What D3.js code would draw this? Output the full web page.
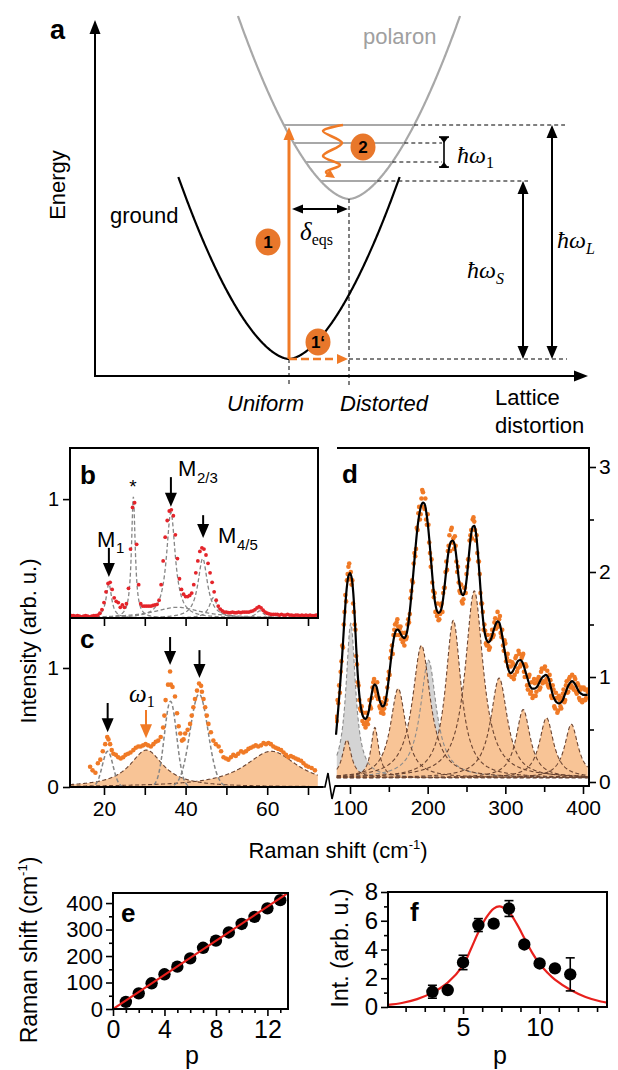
<!DOCTYPE html>
<html><head><meta charset="utf-8">
<script src="https://cdn.jsdelivr.net/npm/d3@7/dist/d3.min.js"></script>
<style>
html,body{margin:0;padding:0;background:#fff;}
svg{display:block;}
</style></head>
<body><svg id="fig" width="618" height="1070" xmlns="http://www.w3.org/2000/svg"></svg>
<script>
// ======================= DATA =======================
// Panel a (schematic) : wells in (distortion q, energy E) units
const wellNames   = ["ground", "polaron"];
const wellCenterQ = [194, 254];
const wellMinE    = [17, 177];
const wellTopE    = [199, 360];
const wellShapeK  = [0.061, 0.061];
const wellShapeP  = [1.7, 1.7];
const vibLevelsE  = [251, 233, 214, 195];
const vibDashEndQ = [470, 347, 347, 433];
const wavePathQ   = [248, 228, 247, 228, 245, 231, 240];
const wavePathE   = [251, 245, 233, 220, 211, 204, 198];
const stepLabels  = ["1", "2", "1\u2018"];
const stepQ       = [173, 268, 223];
const stepE       = [134, 229, 34];

// Panel b : measured spectrum (red dots) 12..72 cm-1, step 0.5
const bShift = d3.range(12, 72.01, 0.5);
const bInt = [0.02,0.02,0.015,0.02,0.015,0.01,0.015,0.02,0.015,0.01,0.015,0.02,0.02,0.025,0.04,0.07,0.13,0.22,0.29,0.30,
  0.24,0.17,0.14,0.13,0.09,0.11,0.09,0.12,0.25,0.58,0.93,0.97,0.62,0.28,0.12,0.10,0.10,0.10,0.10,0.10,
  0.105,0.11,0.115,0.15,0.28,0.48,0.68,0.82,0.90,0.91,0.86,0.70,0.50,0.33,0.24,0.20,0.18,0.18,0.19,0.21,
  0.28,0.38,0.48,0.56,0.59,0.58,0.53,0.46,0.38,0.30,0.22,0.15,0.10,0.075,0.06,0.05,0.05,0.045,0.045,0.05,
  0.045,0.045,0.05,0.045,0.05,0.05,0.05,0.05,0.055,0.06,0.07,0.085,0.095,0.085,0.065,0.05,0.04,0.035,0.03,0.03,
  0.03,0.03,0.025,0.03,0.025,0.025,0.03,0.025,0.025,0.02,0.025,0.025,0.02,0.025,0.02,0.025,0.02,0.025,0.02,0.02,0.025];
// Panel b fitted components (Lorentzian): centre, height, half width
const bPeakC = [21.2, 27.2, 36.4, 44.2, 46.8, 38.0, 58.2];
const bPeakH = [0.29, 1.02, 0.89, 0.50, 0.17, 0.09, 0.06];
const bPeakW = [0.8, 0.55, 1.3, 1.4, 1.2, 7.0, 1.2];
const bArrowShift = [21.2, 36.4, 44.3];
const bArrowTop   = [0.59, 1.185, 0.865];
const bArrowTip   = [0.345, 0.935, 0.672];

// Panel c : measured spectrum (orange dots)
const cShift = [16.6,17.9,19.1,20.3,20.8,21.5,22.3,23.5,24.7,25.9,27.2,28.4,29.6,30.8,32.1,33.3,34.5,35.1,36.2,36.4,37.4,38.3,39.1,39.9,
  41.1,41.9,42.8,43.3,44.0,44.8,45.6,46.8,48.1,49.3,50.5,51.7,52.9,54.2,55.4,56.6,57.8,59.1,60.3,61.5,62.7,64.0,65.2,66.4,67.6,68.9,70.1,71.7];
const cInt = [0.17,0.12,0.23,0.36,0.42,0.36,0.28,0.25,0.25,0.28,0.31,0.34,0.35,0.35,0.36,0.39,0.50,0.73,0.97,0.86,0.76,0.51,0.39,0.45,
  0.53,0.67,0.81,0.87,0.80,0.67,0.53,0.39,0.34,0.25,0.23,0.27,0.28,0.29,0.32,0.34,0.34,0.37,0.37,0.34,0.32,0.29,0.25,0.25,0.23,0.20,0.17,0.14];
const cShift2 = [17.2,18.5,19.7,21.1,21.9,22.9,24.1,25.3,26.5,27.8,29.0,30.2,31.5,32.7,33.9,34.8,35.7,36.8,37.9,38.7,39.5,40.5,41.5,42.3,
  43.8,44.4,45.2,46.2,47.4,48.7,49.9,51.1,52.3,53.6,54.8,56.0,57.2,58.5,59.7,60.9,62.1,63.4,64.6,65.8,67.0,68.3,69.5,70.9];
const cInt2 = [0.14,0.20,0.30,0.40,0.31,0.27,0.24,0.27,0.29,0.33,0.34,0.36,0.34,0.38,0.42,0.60,0.86,0.84,0.62,0.45,0.40,0.48,0.60,0.74,
  0.85,0.74,0.60,0.46,0.36,0.30,0.24,0.25,0.26,0.30,0.30,0.33,0.35,0.35,0.36,0.36,0.33,0.31,0.27,0.26,0.24,0.22,0.18,0.16];
const cFillC = [30.4, 61.0], cFillH = [0.31, 0.30], cFillW = [5.0, 8.0];     // Lorentzian
const cGreyC = [20.9, 36.3, 43.3], cGreyH = [0.30, 0.72, 0.78], cGreyW = [1.3, 1.5, 2.2]; // Gaussian
const cArrowShift = [20.9, 36.2, 43.4], cArrowTop = [0.706, 1.26, 1.15], cArrowTip = [0.46, 1.025, 0.915];
const cOmegaShift = 30.3, cOmegaTop = 0.647, cOmegaTip = 0.41;

// Panel d : fit line and dots on even grid 82..406, extra dots on odd grid 83..405
const dShift = d3.range(82, 406.1, 2);
const dFit = [0.45,0.62,0.80,1.00,1.21,1.45,1.68,1.86,1.96,1.99,1.95,1.82,1.58,1.28,1.02,0.83,0.71,0.64,0.61,0.60,
  0.62,0.67,0.75,0.84,0.91,0.93,0.91,0.85,0.78,0.74,0.72,0.73,0.78,0.87,0.99,1.12,1.25,1.35,1.42,1.45,
  1.45,1.43,1.40,1.38,1.37,1.39,1.45,1.56,1.70,1.86,2.03,2.20,2.36,2.49,2.58,2.64,2.66,2.65,2.58,2.47,
  2.32,2.14,1.96,1.80,1.69,1.63,1.61,1.62,1.66,1.75,1.88,2.02,2.15,2.24,2.29,2.30,2.28,2.20,2.07,1.94,
  1.84,1.79,1.78,1.82,1.92,2.07,2.23,2.36,2.43,2.44,2.38,2.24,2.05,1.84,1.65,1.50,1.40,1.35,1.33,1.34,
  1.37,1.42,1.47,1.51,1.53,1.52,1.47,1.39,1.30,1.21,1.13,1.07,1.04,1.04,1.06,1.09,1.12,1.15,1.16,1.16,
  1.14,1.10,1.05,1.00,0.95,0.91,0.89,0.89,0.89,0.90,0.92,0.95,0.98,1.00,1.01,1.02,1.01,0.98,0.92,0.86,
  0.81,0.78,0.76,0.75,0.75,0.76,0.78,0.82,0.86,0.90,0.93,0.95,0.96,0.95,0.93,0.90,0.87,0.85,0.84,0.83,
  0.83,0.83,0.83];
const dInt = [0.62,0.78,0.92,1.05,1.30,1.50,1.78,1.92,2.05,1.93,1.88,1.70,1.50,1.20,0.95,0.78,0.68,0.58,0.55,0.52,
  0.58,0.60,0.72,0.80,0.95,0.88,0.82,0.79,0.72,0.66,0.68,0.70,0.74,0.90,1.05,1.18,1.30,1.40,1.50,1.52,
  1.48,1.46,1.36,1.33,1.30,1.36,1.50,1.52,1.75,1.92,2.08,2.15,2.42,2.56,2.50,2.70,2.76,2.60,2.50,2.55,
  2.28,2.05,1.90,1.76,1.62,1.58,1.54,1.60,1.70,1.80,1.85,2.10,2.20,2.35,2.40,2.28,2.22,2.25,2.00,1.90,
  1.80,1.72,1.74,1.85,1.98,2.12,2.30,2.40,2.50,2.48,2.30,2.18,2.10,1.80,1.70,1.45,1.44,1.30,1.30,1.28,
  1.40,1.38,1.52,1.46,1.62,1.55,1.42,1.45,1.25,1.32,1.18,1.10,1.15,1.00,1.12,1.02,1.20,1.08,1.22,1.12,
  1.20,1.05,1.12,0.92,1.00,0.84,0.95,0.82,0.94,0.86,0.98,0.88,1.05,0.94,1.08,0.95,1.06,0.90,0.97,0.80,
  0.88,0.70,0.80,0.68,0.78,0.70,0.84,0.76,0.92,0.85,0.98,0.90,1.02,0.88,0.98,0.84,0.92,0.78,0.90,0.78,
  0.88,0.80,0.86];
const dShift2 = d3.range(83, 405.1, 2);
const dInt2 = [0.58,0.75,0.85,1.15,1.28,1.62,1.72,1.98,2.08,2.00,
  1.92,1.62,1.45,1.12,0.92,0.70,0.72,0.66,0.56,0.66,
  0.55,0.78,0.70,0.90,0.98,0.86,0.95,0.80,0.70,0.76,
  0.65,0.80,0.78,0.98,1.02,1.25,1.22,1.45,1.40,1.55,
  1.40,1.48,1.42,1.35,1.42,1.38,1.55,1.60,1.82,1.90,
  2.18,2.22,2.40,2.62,2.55,2.78,2.62,2.70,2.45,2.45,
  2.18,2.12,1.82,1.80,1.62,1.70,1.55,1.68,1.62,1.85,
  2.00,2.02,2.25,2.20,2.42,2.32,2.34,2.10,2.05,1.82,
  1.88,1.70,1.85,1.80,2.05,2.12,2.35,2.32,2.52,2.40,
  2.35,2.10,1.98,1.70,1.62,1.50,1.32,1.40,1.26,1.36,
  1.45,1.40,1.56,1.50,1.48,1.58,1.38,1.30,1.35,1.15,
  1.22,1.02,1.10,1.14,0.98,1.18,1.05,1.25,1.10,1.18,
  1.22,1.00,1.10,0.88,1.02,0.86,0.80,0.98,0.82,0.95,
  1.00,0.90,1.08,0.96,1.10,0.98,0.92,1.02,0.82,0.92,
  0.72,0.85,0.66,0.82,0.72,0.80,0.88,0.78,0.96,0.86,
  1.00,0.92,0.90,1.00,0.86,0.94,0.80,0.88,0.76,0.90,
  0.78,0.88];
const dOrC = [96, 132, 162, 192, 233, 260, 292, 323, 353, 385];
const dOrH = [0.36, 0.48, 0.85, 1.26, 1.50, 1.78, 0.95, 0.65, 0.57, 0.51];
const dOrW = [7, 6, 12, 14, 12, 14, 13, 11, 11, 10.5];
const dGrC = [101, 201], dGrH = [1.47, 1.12], dGrW = [7.4, 12.5];
const dBase = 0.04;

// Panel e
const eP = [1,2,3,4,5,6,7,8,9,10,11,12,13];
const eShift = [27,59,97,131,160,191,231,258,289,321,348,380,411];
const eLineP = [0, 13.6], eLineV = [0, 438];

// Panel f
const fP = [3,4,5,6,7,8,9,10,11,12];
const fInt = [1.06,1.18,3.1,5.7,5.8,6.85,4.35,3.03,2.69,2.27];
const fErr = [0.45,0.2,0.5,0.45,0.2,0.55,0.2,0.2,0.2,1.15];
const fFitP = [0.1,1,2,3,4,5,5.5,6,6.5,7,7.4,8,8.5,9,9.5,10,10.5,11,12,13,14,14.4];
const fFitV = [0.15,0.28,0.55,1.0,1.7,2.9,4.0,5.2,6.2,6.85,7.0,6.6,5.8,4.8,3.8,3.0,2.4,1.9,1.2,0.7,0.38,0.3];

// ======================= STYLE =======================
const SANS = '"Liberation Sans", Arial, Helvetica, sans-serif';
const SERIF = '"Liberation Serif", "DejaVu Serif", serif';
const ORANGE = "#f07a26", CIRC = "#e8772b", RED = "#e8201c", BRED = "#e4242a";
const FILL = "#f8c496", DASHB = "#6b4431", GREYL = "#a8a8a8";

const svg = d3.select("#fig");
const lor = (v, c, h, g) => h / (1 + ((v - c) / g) ** 2);
const gau = (v, c, h, s) => h * Math.exp(-0.5 * ((v - c) / s) ** 2);

function head(g, x1, y1, x2, y2, len, wid, color) {
  const a = Math.atan2(y2 - y1, x2 - x1);
  const bx = x2 - len * Math.cos(a), by = y2 - len * Math.sin(a);
  const px = -Math.sin(a) * wid / 2, py = Math.cos(a) * wid / 2;
  g.append("path").attr("d", `M${x2},${y2}L${bx + px},${by + py}L${bx - px},${by - py}Z`).attr("fill", color);
}
function arrow(g, x1, y1, x2, y2, o) {
  o = Object.assign({color: "#000", w: 2, len: 12, wid: 10, start: false, end: true, dash: null}, o || {});
  const d = Math.hypot(x2 - x1, y2 - y1), ux = (x2 - x1) / d, uy = (y2 - y1) / d;
  const sx = o.start ? x1 + ux * o.len * 0.8 : x1, sy = o.start ? y1 + uy * o.len * 0.8 : y1;
  const ex = o.end ? x2 - ux * o.len * 0.8 : x2, ey = o.end ? y2 - uy * o.len * 0.8 : y2;
  const l = g.append("line").attr("x1", sx).attr("y1", sy).attr("x2", ex).attr("y2", ey)
    .attr("stroke", o.color).attr("stroke-width", o.w);
  if (o.dash) l.attr("stroke-dasharray", o.dash);
  if (o.end) head(g, x1, y1, x2, y2, o.len, o.wid, o.color);
  if (o.start) head(g, x2, y2, x1, y1, o.len, o.wid, o.color);
}
function txt(g, x, y, s, o) {
  o = Object.assign({size: 20, family: SANS, anchor: "start", weight: "normal", style: "normal", fill: "#000"}, o || {});
  return g.append("text").attr("x", x).attr("y", y).text(s).attr("font-size", o.size).attr("font-family", o.family)
    .attr("text-anchor", o.anchor).attr("font-weight", o.weight).attr("font-style", o.style).attr("fill", o.fill);
}
function styleAxis(g, fs, lw) {
  g.attr("font-family", SANS).attr("font-size", fs);
  g.selectAll("text").attr("fill", "#000").attr("font-family", SANS).attr("font-size", fs);
  g.selectAll("line").attr("stroke", "#000").attr("stroke-width", lw || 1.6);
  g.select(".domain").remove();
}

// ======================= PANEL a =======================
const gA = svg.append("g");
const xA = d3.scaleLinear().domain([0, 493]).range([95, 588]);
const yA = d3.scaleLinear().domain([0, 356]).range([376, 20]);
arrow(gA, xA(0), yA(0) + 1, xA(0), yA(356), {w: 2, len: 14, wid: 11});
arrow(gA, xA(0) - 1, yA(0), xA(493), yA(0), {w: 2, len: 14, wid: 11});

const wellLine = d3.line().x(d => xA(d[0])).y(d => yA(d[1]));
wellNames.forEach((n, i) => {
  const hw = Math.pow((wellTopE[i] - wellMinE[i]) / wellShapeK[i], 1 / wellShapeP[i]);
  const pts = d3.range(-hw, hw + 0.01, hw / 200).map(dq =>
    [wellCenterQ[i] + dq, wellMinE[i] + wellShapeK[i] * Math.pow(Math.abs(dq), wellShapeP[i])]);
  gA.append("path").attr("d", wellLine(pts)).attr("fill", "none")
    .attr("stroke", i === 0 ? "#000" : GREYL).attr("stroke-width", 2.2);
});
vibLevelsE.forEach((E, i) => {
  const hw = Math.pow((E - wellMinE[1]) / wellShapeK[1], 1 / wellShapeP[1]);
  gA.append("line").attr("x1", xA(wellCenterQ[1] - hw)).attr("x2", xA(wellCenterQ[1] + hw))
    .attr("y1", yA(E)).attr("y2", yA(E)).attr("stroke", GREYL).attr("stroke-width", 2.2);
  gA.append("line").attr("x1", xA(wellCenterQ[1] + hw)).attr("x2", xA(vibDashEndQ[i]))
    .attr("y1", yA(E)).attr("y2", yA(E)).attr("stroke", "#000").attr("stroke-width", 1).attr("stroke-dasharray", "4,3");
});
gA.append("line").attr("x1", xA(wellCenterQ[1])).attr("x2", xA(wellCenterQ[1])).attr("y1", yA(wellMinE[1])).attr("y2", yA(-9))
  .attr("stroke", "#000").attr("stroke-width", 1).attr("stroke-dasharray", "4,3");
gA.append("line").attr("x1", xA(wellCenterQ[0])).attr("x2", xA(wellCenterQ[0])).attr("y1", yA(wellMinE[0])).attr("y2", yA(-9))
  .attr("stroke", "#000").attr("stroke-width", 1).attr("stroke-dasharray", "4,3");
gA.append("line").attr("x1", xA(wellCenterQ[1])).attr("x2", xA(472)).attr("y1", yA(wellMinE[0])).attr("y2", yA(wellMinE[0]))
  .attr("stroke", "#000").attr("stroke-width", 1).attr("stroke-dasharray", "4,3");
arrow(gA, xA(wellCenterQ[0]), yA(wellMinE[0]), xA(wellCenterQ[0]), yA(249), {color: ORANGE, w: 3, len: 13, wid: 11});
arrow(gA, xA(wellCenterQ[0]), yA(wellMinE[0]), xA(wellCenterQ[1] - 1), yA(wellMinE[0]), {color: ORANGE, w: 2.6, len: 11, wid: 10, dash: "8,4"});
arrow(gA, xA(wellCenterQ[0] + 3), yA(167), xA(wellCenterQ[1] - 1), yA(167), {w: 2, len: 11, wid: 9, start: true});
arrow(gA, xA(428), yA(wellMinE[0]), xA(428), yA(vibLevelsE[3]), {w: 2, len: 13, wid: 11, start: true});
arrow(gA, xA(457), yA(wellMinE[0]), xA(457), yA(vibLevelsE[0]), {w: 2, len: 13, wid: 11, start: true});
(function () {
  const x = xA(349), yt = yA(vibLevelsE[1]), yb = yA(vibLevelsE[2]);
  gA.append("line").attr("x1", x).attr("x2", x).attr("y1", yt - 6).attr("y2", yb + 5).attr("stroke", "#000").attr("stroke-width", 1.6);
  gA.append("line").attr("x1", x - 5).attr("x2", x + 5).attr("y1", yt - 6).attr("y2", yt - 6).attr("stroke", "#000").attr("stroke-width", 1.6);
  gA.append("line").attr("x1", x - 5).attr("x2", x + 5).attr("y1", yb + 5).attr("y2", yb + 5).attr("stroke", "#000").attr("stroke-width", 1.6);
  head(gA, x, yt - 6, x, yt, 6, 9, "#000");
  head(gA, x, yb + 5, x, yb, 6, 9, "#000");
})();
(function () {
  const pts = wavePathQ.map((q, i) => [xA(q), yA(wavePathE[i])]);
  gA.append("path").attr("d", d3.line().curve(d3.curveCatmullRom.alpha(0.5))(pts.slice(0, -1).concat([[pts[pts.length - 1][0] - 3, pts[pts.length - 1][1] - 2]])))
    .attr("fill", "none").attr("stroke", ORANGE).attr("stroke-width", 2.6);
  const n = pts.length;
  head(gA, pts[n - 2][0], pts[n - 2][1], pts[n - 1][0], pts[n - 1][1], 9, 9, ORANGE);
})();
stepLabels.forEach((s, i) => {
  gA.append("ellipse").attr("cx", xA(stepQ[i])).attr("cy", yA(stepE[i])).attr("rx", 12.5).attr("ry", 13.5).attr("fill", CIRC);
  txt(gA, xA(stepQ[i]), yA(stepE[i]) + 6, s, {size: 17, weight: "bold", anchor: "middle"});
});
txt(gA, 50, 39, "a", {size: 27, weight: "bold"});
gA.append("text").attr("transform", "translate(65,185) rotate(-90)").attr("text-anchor", "middle")
  .attr("font-family", SANS).attr("font-size", 22).text("Energy");
txt(gA, 110, 223, "ground", {size: 22});
txt(gA, 363, 44, "polaron", {size: 22, fill: "#a0a0a0"});
txt(gA, 227, 411, "Uniform", {size: 22, style: "italic"});
txt(gA, 340, 411, "Distorted", {size: 22, style: "italic"});
txt(gA, 495, 405, "Lattice", {size: 22});
txt(gA, 495, 433, "distortion", {size: 22});
(function () {
  const t = txt(gA, 300, 240, "", {size: 25, family: SERIF});
  t.append("tspan").text("\u03b4").attr("font-style", "italic");
  t.append("tspan").text("eqs").attr("font-size", 16).attr("dy", 5);
  const h1 = txt(gA, 457, 163, "", {size: 24, family: SERIF});
  h1.append("tspan").text("\u0127\u03c9").attr("font-style", "italic");
  h1.append("tspan").text("1").attr("font-size", 16).attr("dy", 5);
  const hs = txt(gA, 467, 278, "", {size: 24, family: SERIF});
  hs.append("tspan").text("\u0127\u03c9").attr("font-style", "italic");
  hs.append("tspan").text("S").attr("font-size", 16).attr("dy", 6).attr("font-style", "italic");
  const hl = txt(gA, 557, 248, "", {size: 24, family: SERIF});
  hl.append("tspan").text("\u0127\u03c9").attr("font-style", "italic");
  hl.append("tspan").text("L").attr("font-size", 16).attr("dy", 6).attr("font-style", "italic");
})();

// ======================= PANELS b, c =======================
const xBC = d3.scaleLinear().domain([11.67, 72.45]).range([70, 318]);
const yB = d3.scaleLinear().domain([0, 1.43]).range([618, 448]);
const yC = d3.scaleLinear().domain([0, 1.42]).range([787, 618]);
const gB = svg.append("g"), gC = svg.append("g");
svg.append("defs").html(
  '<clipPath id="clipB"><rect x="70" y="448" width="248" height="170"/></clipPath>' +
  '<clipPath id="clipC"><rect x="70" y="618" width="250" height="169"/></clipPath>' +
  '<clipPath id="clipD"><rect x="335" y="448" width="254" height="338"/></clipPath>' +
  '<clipPath id="clipE"><rect x="113" y="893" width="175" height="116"/></clipPath>' +
  '<clipPath id="clipF"><rect x="388" y="892" width="219" height="115"/></clipPath>');

const gBp = gB.append("g").attr("clip-path", "url(#clipB)");
const bGrid = d3.range(11.7, 72.45, 0.1);
bPeakC.forEach((c, i) => {
  gBp.append("path").attr("d", d3.line().x(v => xBC(v)).y(v => yB(lor(v, c, bPeakH[i], bPeakW[i])))(bGrid))
    .attr("fill", "none").attr("stroke", "#858585").attr("stroke-width", 1.3).attr("stroke-dasharray", "4,2.5");
});
gBp.selectAll("circle.b").data(bShift).join("circle").attr("cx", d => xBC(d)).attr("cy", (d, i) => yB(bInt[i]))
  .attr("r", 1.9).attr("fill", BRED);
gB.append("rect").attr("x", 70).attr("y", 448).attr("width", 248).attr("height", 170).attr("fill", "none").attr("stroke", "#000").attr("stroke-width", 2);
styleAxis(gB.append("g").attr("transform", "translate(70,0)").call(d3.axisLeft(yB).tickValues([1]).tickSize(7).tickPadding(4).tickFormat(d3.format("d"))), 20);
styleAxis(gB.append("g").attr("transform", "translate(0,618)").call(d3.axisBottom(xBC).tickValues([20, 30, 40, 50, 60, 70]).tickSize(8).tickFormat("")), 20);
bArrowShift.forEach((v, i) => arrow(gB, xBC(v), yB(bArrowTop[i]), xBC(v), yB(bArrowTip[i]), {w: 2, len: 14, wid: 12}));
txt(gB, 80, 484, "b", {size: 26, weight: "bold"});
txt(gB, 133, 493, "*", {size: 19, anchor: "middle"});
txt(gB, 97, 547, "M", {size: 22}); txt(gB, 116, 553, "1", {size: 15});
txt(gB, 178, 476, "M", {size: 22}); txt(gB, 197, 483, "2/3", {size: 15});
txt(gB, 218, 543, "M", {size: 22}); txt(gB, 237, 550, "4/5", {size: 15});

const gCp = gC.append("g").attr("clip-path", "url(#clipC)");
const cGrid = d3.range(11.7, 72.45, 0.1);
cFillC.forEach((c, i) => {
  gCp.append("path").attr("d", d3.area().x(v => xBC(v)).y0(yC(0)).y1(v => yC(lor(v, c, cFillH[i], cFillW[i])))(cGrid))
    .attr("fill", FILL);
});
cFillC.forEach((c, i) => {
  gCp.append("path").attr("d", d3.line().x(v => xBC(v)).y(v => yC(lor(v, c, cFillH[i], cFillW[i])))(cGrid))
    .attr("fill", "none").attr("stroke", DASHB).attr("stroke-width", 1.1).attr("stroke-dasharray", "4,2.5");
});
cGreyC.forEach((c, i) => {
  gCp.append("path").attr("d", d3.line().x(v => xBC(v)).y(v => yC(gau(v, c, cGreyH[i], cGreyW[i])))(cGrid))
    .attr("fill", "none").attr("stroke", "#858585").attr("stroke-width", 1.5).attr("stroke-dasharray", "4,2.5");
});
gCp.selectAll("circle.c1").data(cShift).join("circle").attr("cx", d => xBC(d)).attr("cy", (d, i) => yC(cInt[i]))
  .attr("r", 2.3).attr("fill", ORANGE);
gCp.append("g").selectAll("circle").data(cShift2).join("circle").attr("cx", d => xBC(d)).attr("cy", (d, i) => yC(cInt2[i]))
  .attr("r", 2.3).attr("fill", ORANGE);
gC.append("line").attr("x1", 70).attr("x2", 70).attr("y1", 618).attr("y2", 787).attr("stroke", "#000").attr("stroke-width", 2);
gC.append("line").attr("x1", 69).attr("x2", 323).attr("y1", 787).attr("y2", 787).attr("stroke", "#000").attr("stroke-width", 2);
styleAxis(gC.append("g").attr("transform", "translate(70,0)").call(d3.axisLeft(yC).tickValues([0, 1]).tickSize(7).tickPadding(4).tickFormat(d3.format("d"))), 21);
styleAxis(gC.append("g").attr("transform", "translate(0,787)").call(d3.axisBottom(xBC).tickValues([20, 30, 40, 50, 60, 70]).tickSize(8).tickPadding(6)
  .tickFormat(d => d % 20 === 0 ? d : "")), 21);
cArrowShift.forEach((v, i) => arrow(gC, xBC(v), yC(cArrowTop[i]), xBC(v), yC(cArrowTip[i]), {w: 2, len: 14, wid: 12}));
arrow(gC, xBC(cOmegaShift), yC(cOmegaTop), xBC(cOmegaShift), yC(cOmegaTip), {w: 2, len: 14, wid: 12, color: ORANGE});
txt(gC, 80, 648, "c", {size: 26, weight: "bold"});
(function () {
  const t = txt(gC, 129, 702, "", {size: 25, family: SERIF});
  t.append("tspan").text("\u03c9").attr("font-style", "italic");
  t.append("tspan").text("1").attr("font-size", 16).attr("dy", 5);
})();
gC.append("path").attr("d", "M322,787 L325,787 L328,773 L332,799 L335,786 L338,786").attr("fill", "none").attr("stroke", "#000").attr("stroke-width", 1.6);

// ======================= PANEL d =======================
const xD = d3.scaleLinear().domain([100, 400]).range([350, 583]);
const yD = d3.scaleLinear().domain([0, 3]).range([782, 467]);
const gD = svg.append("g");
const gDp = gD.append("g").attr("clip-path", "url(#clipD)");
const dGrid = d3.range(83, 406.5, 0.5);
dGrC.forEach((c, i) => gDp.append("path").attr("d", d3.area().x(v => xD(v)).y0(yD(dBase)).y1(v => yD(dBase + lor(v, c, dGrH[i], dGrW[i])))(dGrid)).attr("fill", "#d4d4d4"));
dOrC.forEach((c, i) => gDp.append("path").attr("d", d3.area().x(v => xD(v)).y0(yD(dBase)).y1(v => yD(dBase + lor(v, c, dOrH[i], dOrW[i])))(dGrid)).attr("fill", FILL));
dGrC.forEach((c, i) => gDp.append("path").attr("d", d3.line().x(v => xD(v)).y(v => yD(dBase + lor(v, c, dGrH[i], dGrW[i])))(dGrid))
  .attr("fill", "none").attr("stroke", "#8c8c8c").attr("stroke-width", 1.1).attr("stroke-dasharray", "4,2.5"));
dOrC.forEach((c, i) => gDp.append("path").attr("d", d3.line().x(v => xD(v)).y(v => yD(dBase + lor(v, c, dOrH[i], dOrW[i])))(dGrid))
  .attr("fill", "none").attr("stroke", DASHB).attr("stroke-width", 1.1).attr("stroke-dasharray", "4,2.5"));
gDp.append("g").selectAll("circle").data(dShift).join("circle").attr("cx", d => xD(d)).attr("cy", (d, i) => yD(dInt[i]))
  .attr("r", 2.3).attr("fill", ORANGE);
gDp.append("g").selectAll("circle").data(dShift2).join("circle").attr("cx", d => xD(d)).attr("cy", (d, i) => yD(dInt2[i]))
  .attr("r", 2.3).attr("fill", ORANGE);
gDp.append("path").attr("d", d3.line().curve(d3.curveCatmullRom).x((d, i) => xD(d)).y((d, i) => yD(dFit[i]))(dShift))
  .attr("fill", "none").attr("stroke", "#000").attr("stroke-width", 2.2);
gD.append("line").attr("x1", 337).attr("x2", 590).attr("y1", 448).attr("y2", 448).attr("stroke", "#000").attr("stroke-width", 2);
gD.append("line").attr("x1", 589).attr("x2", 589).attr("y1", 447).attr("y2", 787).attr("stroke", "#000").attr("stroke-width", 2);
gD.append("line").attr("x1", 335).attr("x2", 590).attr("y1", 786).attr("y2", 786).attr("stroke", "#000").attr("stroke-width", 2);
styleAxis(gD.append("g").attr("transform", "translate(589,0)").call(d3.axisRight(yD).tickValues([0, 1, 2, 3]).tickSize(7).tickPadding(3).tickFormat(d3.format("d"))), 21);
styleAxis(gD.append("g").attr("transform", "translate(589,0)").call(d3.axisRight(yD).tickValues([0.5, 1.5, 2.5]).tickSize(5).tickFormat("")), 21);
styleAxis(gD.append("g").attr("transform", "translate(0,786)").call(d3.axisBottom(xD).tickValues([100, 200, 300, 400]).tickSize(8).tickPadding(6).tickFormat(d3.format("d"))), 21);
styleAxis(gD.append("g").attr("transform", "translate(0,786)").call(d3.axisBottom(xD).tickValues([150, 250, 350]).tickSize(6).tickFormat("")), 21);
txt(gD, 342, 483, "d", {size: 26, weight: "bold"});

(function () {
  const t = txt(svg, 338, 858, "", {size: 22, anchor: "middle"});
  t.append("tspan").text("Raman shift (cm");
  t.append("tspan").text("-1").attr("font-size", 13).attr("dy", -9);
  t.append("tspan").text(")").attr("dy", 9);
  svg.append("text").attr("transform", "translate(36,641) rotate(-90)").attr("text-anchor", "middle")
    .attr("font-family", SANS).attr("font-size", 22).text("Intensity (arb. u.)");
})();

// ======================= PANEL e =======================
const xE = d3.scaleLinear().domain([0, 13.6]).range([113, 288]);
const yE = d3.scaleLinear().domain([0, 438]).range([1009, 893]);
const gE = svg.append("g");
styleAxis(gE.append("g").attr("transform", "translate(113,0)").call(d3.axisLeft(yE).tickValues([0, 100, 200, 300, 400]).tickSize(7).tickPadding(3).tickFormat(d3.format("d"))), 22);
styleAxis(gE.append("g").attr("transform", "translate(113,0)").call(d3.axisLeft(yE).tickValues([50, 150, 250, 350]).tickSize(4).tickFormat("")), 22);
styleAxis(gE.append("g").attr("transform", "translate(0,1009)").call(d3.axisBottom(xE).tickValues([0, 4, 8, 12]).tickSize(7).tickPadding(4).tickFormat(d3.format("d"))), 25);
styleAxis(gE.append("g").attr("transform", "translate(0,1009)").call(d3.axisBottom(xE).tickValues([1, 2, 3, 5, 6, 7, 9, 10, 11, 13]).tickSize(4).tickFormat("")), 25);
const gEp = gE.append("g").attr("clip-path", "url(#clipE)");
gEp.selectAll("circle").data(eP).join("circle").attr("cx", d => xE(d)).attr("cy", (d, i) => yE(eShift[i])).attr("r", 6.2).attr("fill", "#000");
gEp.append("path").attr("d", d3.line().x((d, i) => xE(d)).y((d, i) => yE(eLineV[i]))(eLineP)).attr("stroke", RED).attr("stroke-width", 2.2).attr("fill", "none");
gE.append("rect").attr("x", 113).attr("y", 893).attr("width", 175).attr("height", 116).attr("fill", "none").attr("stroke", "#000").attr("stroke-width", 2);
txt(gE, 121, 922, "e", {size: 26, weight: "bold"});
txt(gE, 192, 1064, "p", {size: 25, anchor: "middle"});
(function () {
  const t = svg.append("text").attr("transform", "translate(37,950) rotate(-90)").attr("text-anchor", "middle")
    .attr("font-family", SANS).attr("font-size", 23);
  t.append("tspan").text("Raman shift (cm");
  t.append("tspan").text("-1").attr("font-size", 13).attr("dy", -10);
  t.append("tspan").text(")").attr("dy", 10);
})();

// ======================= PANEL f =======================
const xF = d3.scaleLinear().domain([0.1, 14.4]).range([388, 607]);
const yF = d3.scaleLinear().domain([0, 8]).range([1007, 892]);
const gF = svg.append("g");
styleAxis(gF.append("g").attr("transform", "translate(388,0)").call(d3.axisLeft(yF).tickValues([0, 2, 4, 6, 8]).tickSize(7).tickPadding(3).tickFormat(d3.format("d"))), 24);
styleAxis(gF.append("g").attr("transform", "translate(388,0)").call(d3.axisLeft(yF).tickValues([1, 3, 5, 7]).tickSize(4).tickFormat("")), 24);
styleAxis(gF.append("g").attr("transform", "translate(0,1007)").call(d3.axisBottom(xF).tickValues([5, 10]).tickSize(7).tickPadding(4).tickFormat(d3.format("d"))), 25);
styleAxis(gF.append("g").attr("transform", "translate(0,1007)").call(d3.axisBottom(xF).tickValues([1.25, 2.5, 3.75, 6.25, 7.5, 8.75, 11.25, 12.5, 13.75]).tickSize(5).tickFormat("")), 25);
const gFp = gF.append("g").attr("clip-path", "url(#clipF)");
gFp.append("path").attr("d", d3.line().curve(d3.curveCatmullRom).x((d, i) => xF(d)).y((d, i) => yF(fFitV[i]))(fFitP))
  .attr("stroke", RED).attr("stroke-width", 2.2).attr("fill", "none");
fP.forEach((p, i) => {
  const x = xF(p), y1 = yF(fInt[i] - fErr[i]), y2 = yF(fInt[i] + fErr[i]);
  gFp.append("line").attr("x1", x).attr("x2", x).attr("y1", y1).attr("y2", y2).attr("stroke", "#000").attr("stroke-width", 1.6);
  gFp.append("line").attr("x1", x - 4.5).attr("x2", x + 4.5).attr("y1", y1).attr("y2", y1).attr("stroke", "#000").attr("stroke-width", 1.6);
  gFp.append("line").attr("x1", x - 4.5).attr("x2", x + 4.5).attr("y1", y2).attr("y2", y2).attr("stroke", "#000").attr("stroke-width", 1.6);
});
gFp.append("g").selectAll("circle").data(fP).join("circle").attr("cx", d => xF(d)).attr("cy", (d, i) => yF(fInt[i])).attr("r", 6.2).attr("fill", "#000");
gF.append("rect").attr("x", 388).attr("y", 892).attr("width", 219).attr("height", 115).attr("fill", "none").attr("stroke", "#000").attr("stroke-width", 2);
txt(gF, 410, 921, "f", {size: 26, weight: "bold"});
txt(gF, 500, 1064, "p", {size: 25, anchor: "middle"});
svg.append("text").attr("transform", "translate(348,948) rotate(-90)").attr("text-anchor", "middle")
  .attr("font-family", SANS).attr("font-size", 23).text("Int. (arb. u.)");
</script>
</body></html>
